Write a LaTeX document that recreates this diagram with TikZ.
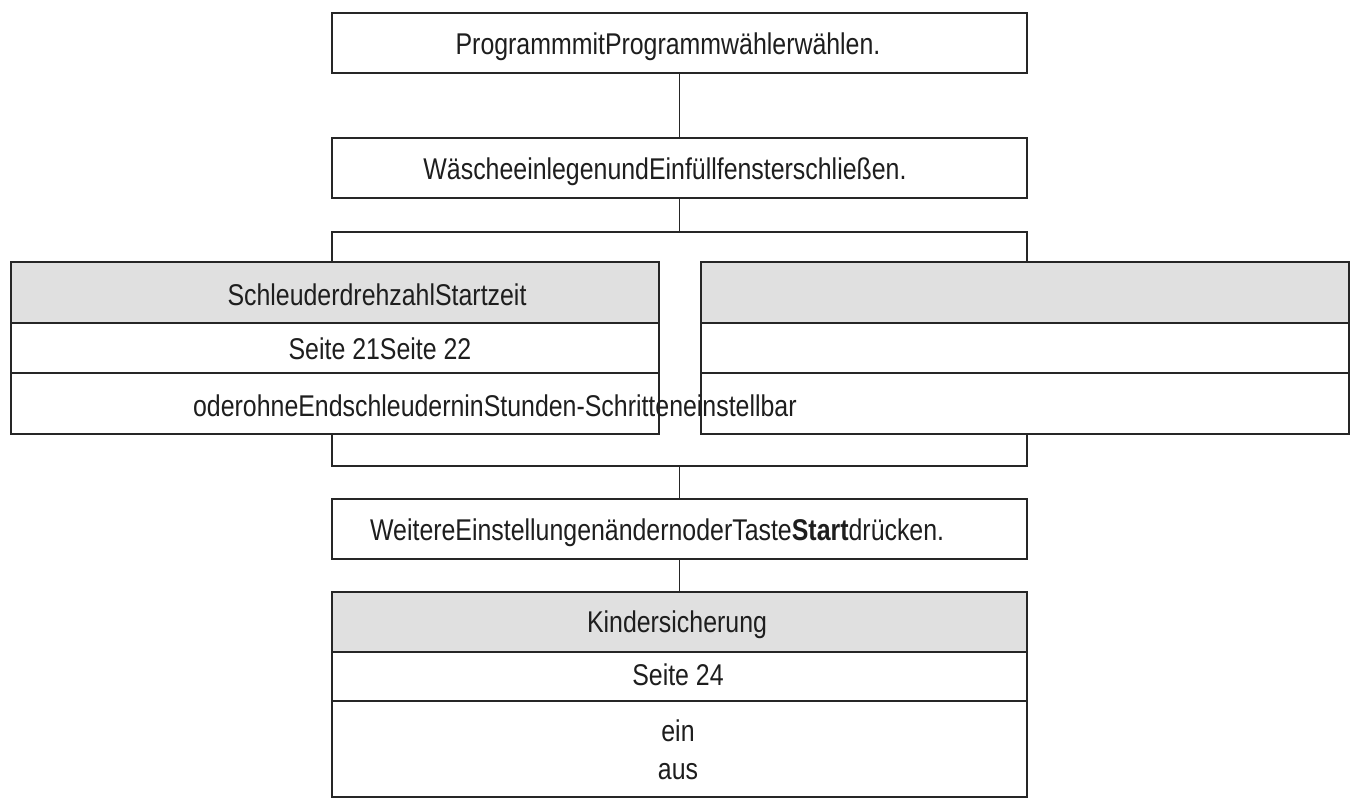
\documentclass[tikz,border=0pt]{standalone}
\usepackage{fontspec}
\setmainfont{Liberation Sans}[FakeStretch=0.83]
\definecolor{linec}{HTML}{262626}
\definecolor{textc}{HTML}{1E1E1E}
\definecolor{hdrgray}{HTML}{E0E0E0}
\begin{document}
\begin{tikzpicture}[x=1pt,y=-1pt,line width=2.3pt,line join=miter,
  box/.style={draw=linec,fill=white,rectangle,inner sep=0pt,minimum width=695pt,minimum height=60pt},
  hdr/.style={draw=linec,fill=hdrgray,rectangle,inner sep=0pt,minimum width=#1},
  cell/.style={draw=linec,fill=white,rectangle,inner sep=0pt,minimum width=#1},
  txt/.style={inner sep=0pt,text=textc,font=\fontsize{30}{36}\selectfont},
  conn/.style={draw=linec,line width=1.7pt}]
\useasboundingbox (0,0) rectangle (1359,801);

% split / join coordinates of the bracket
\coordinate (splitL) at (332,232);
\coordinate (splitR) at (1027,232);
\coordinate (joinL) at (332,466);
\coordinate (joinR) at (1027,466);

% bracket lines (drawn first so the tables cover their ends)
\draw[conn] (332,262) -- (splitL) -- (splitR) -- (1027,262);
\draw[conn] (332,434) -- (joinL) -- (joinR) -- (1027,434);

% main boxes
\node[box] (b1) at (679.5,43) {};
\node[box] (b2) at (679.5,168) {};
\node[box] (b3) at (679.5,529) {};

% left table
\node[hdr=648pt,minimum height=61pt] (L1) at (335,292.5) {};
\node[cell=648pt,minimum height=50pt] (L2) at (335,348) {};
\node[cell=648pt,minimum height=61pt] (L3) at (335,403.5) {};
% right table
\node[hdr=648pt,minimum height=61pt] (R1) at (1025,292.5) {};
\node[cell=648pt,minimum height=50pt] (R2) at (1025,348) {};
\node[cell=648pt,minimum height=61pt] (R3) at (1025,403.5) {};
% bottom table
\node[hdr=695pt,minimum height=60pt] (K1) at (679.5,622) {};
\node[cell=695pt,minimum height=49pt] (K2) at (679.5,676.5) {};
\node[cell=695pt,minimum height=96pt] (K3) at (679.5,749) {};

% connectors
\draw[conn] (b1.south) -- (b2.north);
\draw[conn] (b2.south) -- (b2.south |- splitL);
\draw[conn] (b3.north |- joinL) -- (b3.north);
\draw[conn] (b3.south) -- (K1.north);

% texts
\node[txt,anchor=base] (t1) at (668,54) {ProgrammmitProgrammwählerwählen.};
\node[txt,anchor=base] (t2) at (665,179) {WäscheeinlegenundEinfüllfensterschließen.};
\node[txt,anchor=base] (lt1) at (377,305) {SchleuderdrehzahlStartzeit};
\node[txt,anchor=base] (lt2) at (380,359) {Seite 21Seite 22};
\node[txt,anchor=base west] (lt3) at (192,416) {oderohneEndschleuderninStunden-Schritteneinstellbar};
\node[txt,anchor=base west] (t3) at (369,540) {WeitereEinstellungenändernoderTaste\textbf{Start}drücken.};
\node[txt,anchor=base] (k1) at (677,632) {Kindersicherung};
\node[txt,anchor=base] (k2) at (678,685) {Seite 24};
\node[txt,anchor=base] (k3) at (678,741) {ein};
\node[txt,anchor=base] (k4) at (678,779) {aus};
\end{tikzpicture}
\end{document}
